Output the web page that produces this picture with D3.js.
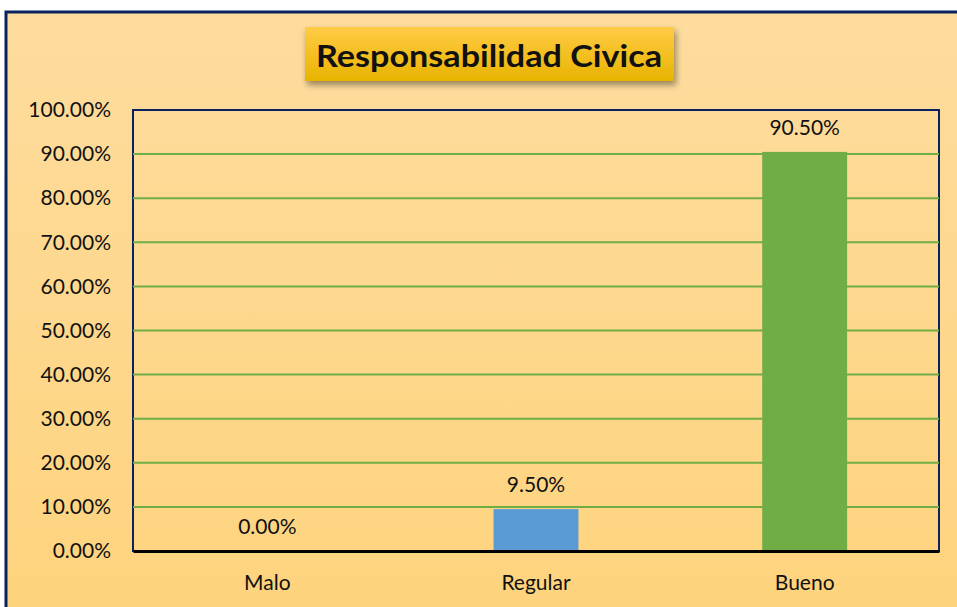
<!DOCTYPE html>
<html>
<head>
<meta charset="utf-8">
<script src="https://cdn.jsdelivr.net/npm/d3@7"></script>
<style>
  body { margin: 0; background: #fff; }
  svg text { font-family: Lato, "Open Sans", sans-serif; fill: #111; }
</style>
</head>
<body>
<svg id="chart" width="957" height="607"></svg>
<script>
// data
var categories = ["Malo", "Regular", "Bueno"];
var values = [0.0, 0.095, 0.905];
var barColors = ["#5B9BD5", "#5B9BD5", "#70AD47"];
var yTicks = [0, 0.1, 0.2, 0.3, 0.4, 0.5, 0.6, 0.7, 0.8, 0.9, 1.0];
var title = "Responsabilidad Civica";

var svg = d3.select("svg#chart");
var width = +svg.attr("width"),
    height = +svg.attr("height");

var margin = {top: 110, right: 18, bottom: 56, left: 133};
var plotW = width - margin.left - margin.right,
    plotH = height - margin.top - margin.bottom;

var defs = svg.append("defs");

var bg = defs.append("linearGradient").attr("id", "bgGrad")
  .attr("x1", 0).attr("y1", 0).attr("x2", 0).attr("y2", 1);
bg.append("stop").attr("offset", "0%").attr("stop-color", "#FDDC9E");
bg.append("stop").attr("offset", "100%").attr("stop-color", "#FED37C");

var tg = defs.append("linearGradient").attr("id", "titleGrad")
  .attr("x1", 0).attr("y1", 0).attr("x2", 0).attr("y2", 1);
tg.append("stop").attr("offset", "0%").attr("stop-color", "#FFCB45");
tg.append("stop").attr("offset", "100%").attr("stop-color", "#E9B400");

var sh = defs.append("filter").attr("id", "shadow")
  .attr("x", "-10%").attr("y", "-30%").attr("width", "130%").attr("height", "180%");
sh.append("feDropShadow").attr("dx", 2).attr("dy", 4).attr("stdDeviation", 3)
  .attr("flood-color", "#000").attr("flood-opacity", 0.4);

// chart background + border
svg.append("rect")
  .attr("x", 6).attr("y", 12)
  .attr("width", width + 10).attr("height", height + 10)
  .attr("fill", "url(#bgGrad)")
  .attr("stroke", "#0B2260")
  .attr("stroke-width", 3);

// title box
var tbox = svg.append("g");
tbox.append("rect")
  .attr("x", 305).attr("y", 27)
  .attr("width", 369).attr("height", 54)
  .attr("fill", "url(#titleGrad)")
  .attr("filter", "url(#shadow)");
tbox.append("text")
  .attr("x", 489).attr("y", 67)
  .attr("text-anchor", "middle")
  .attr("textLength", 346)
  .attr("lengthAdjust", "spacingAndGlyphs")
  .style("font-weight", "bold")
  .style("font-size", "30px")
  .text(title);

var x = d3.scaleBand().domain(categories).range([0, plotW]).paddingInner(0.684).paddingOuter(0.342);
var y = d3.scaleLinear().domain([0, 1]).range([plotH, 0]);

var g = svg.append("g").attr("transform", "translate(" + margin.left + "," + margin.top + ")");

// plot frame
g.append("rect")
  .attr("x", 0).attr("y", 0)
  .attr("width", plotW).attr("height", plotH)
  .attr("fill", "none")
  .attr("stroke", "#0B2260")
  .attr("stroke-width", 2);

// gridlines
g.selectAll(".grid")
  .data(yTicks.filter(function(d) { return d > 0 && d < 1; }))
  .enter().append("line")
  .attr("x1", 0).attr("x2", plotW)
  .attr("y1", function(d) { return y(d); })
  .attr("y2", function(d) { return y(d); })
  .attr("stroke", "#70AD47")
  .attr("stroke-width", 2);

// y axis labels
var yAxis = d3.axisLeft(y).tickValues(yTicks).tickSize(0).tickPadding(22)
  .tickFormat(function(d) { return (d * 100).toFixed(2) + "%"; });
var ya = g.append("g").call(yAxis);
ya.select(".domain").remove();
ya.selectAll("text").style("font-size", "21px").style("font-family", "Lato, sans-serif").attr("fill", "#111");

// bars
g.selectAll(".bar")
  .data(values)
  .enter().append("rect")
  .attr("x", function(d, i) { return x(categories[i]); })
  .attr("y", function(d) { return y(d); })
  .attr("width", x.bandwidth())
  .attr("height", function(d) { return plotH - y(d); })
  .attr("fill", function(d, i) { return barColors[i]; });

// value labels
g.selectAll(".lbl")
  .data(values)
  .enter().append("text")
  .attr("x", function(d, i) { return x(categories[i]) + x.bandwidth() / 2; })
  .attr("y", function(d) { return y(d) - 17; })
  .attr("text-anchor", "middle")
  .style("font-size", "21px")
  .text(function(d) { return (d * 100).toFixed(2) + "%"; });

// x axis
var xAxis = d3.axisBottom(x).tickSize(0).tickPadding(24);
var xa = g.append("g").attr("transform", "translate(0," + plotH + ")").call(xAxis);
xa.select(".domain").attr("stroke", "#000").attr("stroke-width", 3);
xa.selectAll("text").style("font-size", "21px").style("font-family", "Lato, sans-serif").attr("fill", "#111");
</script>
</body>
</html>
